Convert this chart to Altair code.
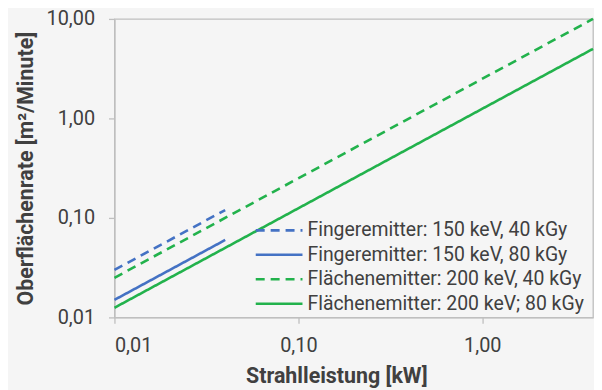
import altair as alt
import pandas as pd

series_names = [
    "Fingeremitter: 150 keV, 40 kGy",
    "Fingeremitter: 150 keV, 80 kGy",
    "Flächenemitter: 200 keV, 40 kGy",
    "Flächenemitter: 200 keV; 80 kGy",
]
series_colors = ["#4472C4", "#4472C4", "#22B24C", "#22B24C"]
series_dash = [[9, 6], [1, 0], [9, 6], [1, 0]]

finger_x = [0.01, 0.04]
finger40_y = [0.03, 0.12]
finger80_y = [0.015, 0.06]
flaechen_x = [0.01, 4.0]
flaechen40_y = [0.025, 10.0]
flaechen80_y = [0.0125, 5.0]

x_ticks = [0.01, 0.1, 1.0]
y_ticks = [0.01, 0.1, 1.0, 10.0]

rows = []
for name, xs, ys in [
    (series_names[0], finger_x, finger40_y),
    (series_names[1], finger_x, finger80_y),
    (series_names[2], flaechen_x, flaechen40_y),
    (series_names[3], flaechen_x, flaechen80_y),
]:
    for xv, yv in zip(xs, ys):
        rows.append({"serie": name, "x": xv, "y": yv})
df = pd.DataFrame(rows)

label_expr = "replace(format(datum.value, '.2f'), '.', ',')"
font = "Roboto"
txt = "#404040"
gridc = "#BFBFBF"

legend_opts = dict(title=None, orient="none", legendX=152, legendY=199,
                   symbolType="M-2,0H2", symbolSize=552, symbolStrokeWidth=2.6,
                   labelFont=font, labelFontSize=19.5, labelColor=txt,
                   labelOffset=15, rowPadding=1.6, labelLimit=400)

chart = alt.Chart(df).mark_line(strokeWidth=2.6, strokeCap="butt").encode(
    x=alt.X("x:Q", scale=alt.Scale(type="log", domain=[0.01, 4], nice=False),
            axis=alt.Axis(values=x_ticks, labelExpr=label_expr, title="Strahlleistung [kW]",
                          grid=False, tickSize=6, labelPadding=12, titlePadding=10,
                          titleX=223)),
    y=alt.Y("y:Q", scale=alt.Scale(type="log", domain=[0.01, 10], nice=False),
            axis=alt.Axis(values=y_ticks, labelExpr=label_expr, title="Oberflächenrate [m²/Minute]",
                          grid=False, tickSize=6, labelPadding=14, titlePadding=8)),
    color=alt.Color("serie:N", scale=alt.Scale(domain=series_names, range=series_colors),
                    legend=alt.Legend(**legend_opts)),
    strokeDash=alt.StrokeDash("serie:N", scale=alt.Scale(domain=series_names, range=series_dash),
                              legend=alt.Legend(**legend_opts)),
).properties(
    width=481, height=300,
    autosize=alt.AutoSizeParams(type="none"),
    padding={"left": 107, "top": 10, "right": 1, "bottom": 72},
    background="#F5F5F5",
).configure_view(
    stroke=gridc, strokeWidth=1.3
).configure_axis(
    domainColor=gridc, tickColor=gridc, domainWidth=1.3, tickWidth=1.3,
    labelFont=font, labelFontSize=20, labelColor=txt,
    titleFont=font, titleFontSize=21.5, titleFontWeight="bold", titleColor=txt,
)

chart.save("out.html", embed_options={"renderer": "svg", "actions": False})
